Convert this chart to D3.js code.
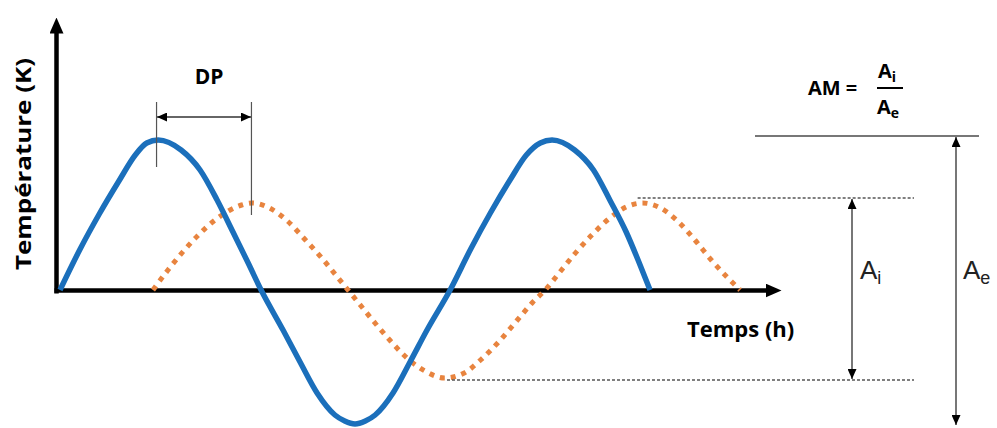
<!DOCTYPE html>
<html>
<head>
<meta charset="utf-8">
<script src="https://cdn.jsdelivr.net/npm/d3@7"></script>
<style>
  body { margin: 0; background: #fff; }
  text { font-family: "Open Sans", sans-serif; }
</style>
</head>
<body>
<div id="chart"></div>
<script>

// ======================= //
// DATA
// ======================= //

// outside temperature (blue), [time (h), deviation (K)]
var tempExt = [
  [0, 0], [1.2, 4.0], [2.4, 7.6], [3.6, 10.9], [4.6, 13.5], [5.3, 14.7], [6.0, 15.0],
  [7.4, 14.0], [8.56, 12.0], [9.6, 9.0], [10.57, 5.8], [11.5, 2.7], [12.29, 0],
  [13.63, -4.0], [14.67, -7.2], [15.71, -10.3], [16.8, -12.5], [17.4, -13.1], [18.03, -13.4],
  [18.66, -13.1], [19.26, -12.5], [20.35, -10.3], [21.39, -7.2], [22.43, -4.0], [23.84, 0],
  [25.1, 4.1], [26.3, 7.7], [27.5, 11.0], [28.5, 13.5], [29.35, 14.7], [30.07, 15.0],
  [31.45, 14.0], [32.6, 12.0], [33.6, 9.0], [34.6, 5.8], [35.4, 2.7], [36.06, 0]
]

// inside temperature (orange, dotted)
var tempInt = [
  [5.68, 0], [6.6, 2.0], [7.5, 3.8], [8.4, 5.4], [9.4, 6.9], [10.4, 8.0], [11.1, 8.5],
  [11.75, 8.7], [12.8, 8.2], [13.9, 6.9], [15.0, 5.0], [16.0, 3.2], [16.9, 1.4],
  [17.6, 0], [18.4, -1.6], [19.3, -3.4], [20.2, -5.1], [21.2, -6.8], [22.3, -8.1],
  [23.5, -8.8], [24.7, -8.3], [25.7, -7.0], [26.8, -5.2], [27.9, -3.1], [28.9, -1.2],
  [29.65, 0], [30.6, 1.9], [31.5, 3.7], [32.5, 5.5], [33.6, 7.2], [34.6, 8.3],
  [35.6, 8.7], [36.7, 8.2], [37.8, 6.8], [38.8, 5.0], [39.8, 3.0], [40.7, 1.4], [41.56, 0]
]

// peak times used for the phase shift (DP)
var dpTimes = [5.9, 11.7]

// amplitude bounds (K): inside and outside
var ampInt = [9.2, -9.0]
var ampExt = [15.4, -13.5]

// start times of the dotted guide lines (inside peak, inside trough)
var guideStart = [35.3, 23.65]


// ======================= //
// SVG AND SCALES
// ======================= //

var width = 997, height = 428;

var svg = d3.select("#chart")
  .append("svg")
    .attr("width", width)
    .attr("height", height)

var x = d3.scaleLinear()
  .domain([0, 44])
  .range([60, 780]);

var y = d3.scaleLinear()
  .domain([-14, 15])
  .range([430, 140]);

var defs = svg.append("defs")

defs.append("marker")
    .attr("id", "axisArrow")
    .attr("viewBox", "0 0 16 14")
    .attr("refX", 1)
    .attr("refY", 7)
    .attr("markerWidth", 16)
    .attr("markerHeight", 14)
    .attr("markerUnits", "userSpaceOnUse")
    .attr("orient", "auto")
  .append("path")
    .attr("d", "M0,0 L16,7 L0,14 Z")
    .attr("fill", "black")

defs.append("marker")
    .attr("id", "smallArrow")
    .attr("viewBox", "0 0 10 9")
    .attr("refX", 10)
    .attr("refY", 4.5)
    .attr("markerWidth", 10)
    .attr("markerHeight", 9)
    .attr("markerUnits", "userSpaceOnUse")
    .attr("orient", "auto-start-reverse")
  .append("path")
    .attr("d", "M0,0 L10,4.5 L0,9 Z")
    .attr("fill", "black")


// ======================= //
// AXES
// ======================= //

var xAxisScale = d3.scaleLinear()
  .domain([x.invert(54), x.invert(766)])
  .range([54, 766])
var yAxisScale = d3.scaleLinear()
  .domain([y.invert(293), y.invert(32)])
  .range([293, 32])

svg.append("g")
    .attr("transform", "translate(0," + y(0) + ")")
    .call(d3.axisBottom(xAxisScale).tickValues([]).tickSizeOuter(0))
  .select(".domain")
    .attr("stroke", "black")
    .attr("stroke-width", 4.5)
    .attr("marker-end", "url(#axisArrow)")

svg.append("g")
    .attr("transform", "translate(56,0)")
    .call(d3.axisLeft(yAxisScale).tickValues([]).tickSizeOuter(0))
  .select(".domain")
    .attr("stroke", "black")
    .attr("stroke-width", 4.5)
    .attr("marker-end", "url(#axisArrow)")

// axis labels
svg.append("text")
    .attr("transform", "translate(31,164) rotate(-90)")
    .attr("text-anchor", "middle")
    .attr("textLength", 212)
    .attr("lengthAdjust", "spacingAndGlyphs")
    .style("font-size", "21px")
    .style("font-weight", "bold")
    .text("Température (K)")

svg.append("text")
    .attr("x", 687)
    .attr("y", 337)
    .style("font-size", "22px")
    .style("font-weight", "bold")
    .text("Temps (h)")


// ======================= //
// CURVES
// ======================= //

var line = d3.line()
  .x(function(d) { return x(d[0]); })
  .y(function(d) { return y(d[1]); })
  .curve(d3.curveMonotoneX)

svg.append("path")
    .datum(tempInt)
    .attr("d", line)
    .attr("fill", "none")
    .attr("stroke", "#e8843f")
    .attr("stroke-width", 5)
    .style("stroke-dasharray", ("5, 6"))

svg.append("path")
    .datum(tempExt)
    .attr("d", line)
    .attr("fill", "none")
    .attr("stroke", "#1b6fbb")
    .attr("stroke-width", 5.5)


// ======================= //
// ANNOTATIONS
// ======================= //

// DP: phase shift between the peaks
svg.append("line")
    .attr("x1", x(dpTimes[0])).attr("x2", x(dpTimes[0]))
    .attr("y1", 102).attr("y2", 167)
    .attr("stroke", "#555").attr("stroke-width", 1.2)
svg.append("line")
    .attr("x1", x(dpTimes[1])).attr("x2", x(dpTimes[1]))
    .attr("y1", 102).attr("y2", 215)
    .attr("stroke", "#555").attr("stroke-width", 1.2)
svg.append("line")
    .attr("x1", x(dpTimes[0]) + 0.5).attr("x2", x(dpTimes[1]) - 0.5)
    .attr("y1", 117).attr("y2", 117)
    .attr("stroke", "#333").attr("stroke-width", 1.3)
    .attr("marker-start", "url(#smallArrow)")
    .attr("marker-end", "url(#smallArrow)")
svg.append("text")
    .attr("x", 209)
    .attr("y", 84)
    .attr("text-anchor", "middle")
    .style("font-size", "21px")
    .style("font-weight", "bold")
    .text("DP")

// dotted guides of the inside amplitude
svg.selectAll("myGuide")
  .data(ampInt)
  .enter()
  .append("line")
    .attr("x1", function(d, i) { return x(guideStart[i]); })
    .attr("x2", 914)
    .attr("y1", function(d) { return y(d); })
    .attr("y2", function(d) { return y(d); })
    .attr("stroke", "#555")
    .attr("stroke-width", 1.4)
    .style("stroke-dasharray", ("3, 2"))

// Ai arrow
svg.append("line")
    .attr("x1", 852).attr("x2", 852)
    .attr("y1", y(ampInt[0]) + 1).attr("y2", y(ampInt[1]) - 1)
    .attr("stroke", "#555").attr("stroke-width", 1.6)
    .attr("marker-start", "url(#smallArrow)")
    .attr("marker-end", "url(#smallArrow)")

// Ae top line and arrow
svg.append("line")
    .attr("x1", 755).attr("x2", 979)
    .attr("y1", y(ampExt[0])).attr("y2", y(ampExt[0]))
    .attr("stroke", "#777").attr("stroke-width", 2)
svg.append("line")
    .attr("x1", 956).attr("x2", 956)
    .attr("y1", y(ampExt[0]) + 1).attr("y2", y(ampExt[1]))
    .attr("stroke", "#777").attr("stroke-width", 2)
    .attr("marker-start", "url(#smallArrow)")
    .attr("marker-end", "url(#smallArrow)")

// amplitude labels
var ampLabels = [["A", "i", 860], ["A", "e", 963]]
ampLabels.forEach(function(l) {
  var t = svg.append("text")
      .attr("x", l[2])
      .attr("y", 279)
      .style("font-family", "'Liberation Sans', Arial, sans-serif")
      .style("font-size", "26px")
      .style("fill", "#222")
  t.append("tspan").text(l[0])
  t.append("tspan").attr("dy", 5).style("font-size", "18px").text(l[1])
})

// AM = Ai / Ae
svg.append("text")
    .attr("x", 808)
    .attr("y", 95)
    .style("font-size", "20px")
    .style("font-weight", "bold")
    .text("AM =")

var fracParts = [["i", 878, 78], ["e", 877, 114]]
fracParts.forEach(function(p) {
  var t = svg.append("text")
      .attr("x", p[1])
      .attr("y", p[2])
      .style("font-size", "20px")
      .style("font-weight", "bold")
  t.append("tspan").text("A")
  t.append("tspan").attr("dy", 4).style("font-size", "14px").text(p[0])
})
svg.append("line")
    .attr("x1", 877).attr("x2", 903)
    .attr("y1", 88).attr("y2", 88)
    .attr("stroke", "black").attr("stroke-width", 2)

</script>
</body>
</html>
